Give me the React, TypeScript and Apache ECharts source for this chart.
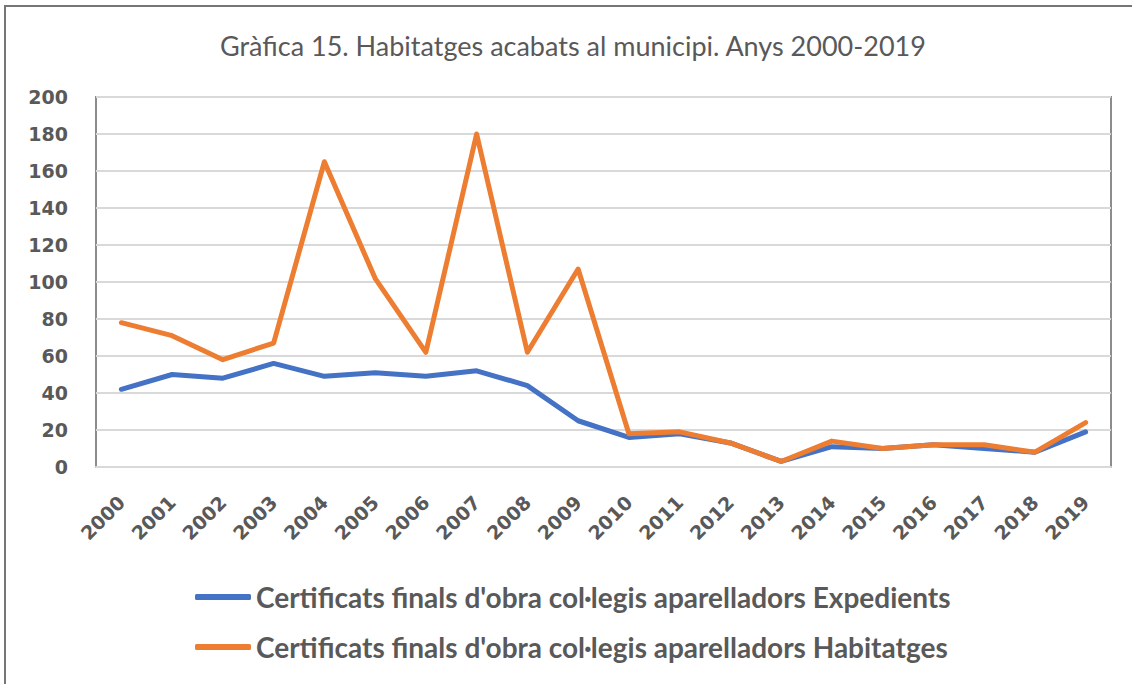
import React, { useEffect, useRef } from "react";
import * as echarts from "echarts";

const years = ["2000","2001","2002","2003","2004","2005","2006","2007","2008","2009","2010","2011","2012","2013","2014","2015","2016","2017","2018","2019"];
const expedients = [42, 50, 48, 56, 49, 51, 49, 52, 44, 25, 16, 18, 13, 3, 11, 10, 12, 10, 8, 19];
const habitatges = [78, 71, 58, 67, 165, 102, 62, 180, 62, 107, 18, 19, 13, 3, 14, 10, 12, 12, 8, 24];
const seriesNames = [
  "Certificats finals d'obra col·legis aparelladors Expedients",
  "Certificats finals d'obra col·legis aparelladors Habitatges",
];
const titleText = "Gràfica 15. Habitatges acabats al municipi. Anys 2000-2019";

export default function App() {
  const ref = useRef<HTMLDivElement>(null);
  useEffect(() => {
    if (!ref.current) return;
    const chart = echarts.init(ref.current, undefined, { renderer: "svg" });
    chart.setOption({
      animation: false,
      backgroundColor: "#ffffff",
      title: {
        text: titleText,
        left: 215,
        top: 27,
        textStyle: { fontFamily: "Lato", fontWeight: "normal", fontSize: 27, color: "#595959" },
      },
      grid: {
        left: 96,
        right: 21,
        top: 97,
        bottom: 217,
        show: true,
        borderColor: "#8c8c8c",
        borderWidth: 2,
      },
      legend: {
        orient: "vertical",
        left: 190,
        top: 577,
        itemGap: 20,
        itemWidth: 56,
        itemHeight: 6,
        icon: "roundRect",
        textStyle: {
          fontFamily: "Lato",
          fontWeight: "bold",
          fontSize: 28,
          lineHeight: 30,
          color: "#595959",
        },
        data: seriesNames,
      },
      xAxis: {
        type: "category",
        data: years,
        boundaryGap: true,
        axisTick: { show: false },
        axisLine: { lineStyle: { color: "#d9d9d9", width: 2 } },
        axisLabel: {
          rotate: 45,
          interval: 0,
          margin: 32,
          fontFamily: "DejaVu Sans",
          fontWeight: "bold",
          fontSize: 19,
          color: "#595959",
        },
      },
      yAxis: {
        type: "value",
        min: 0,
        max: 200,
        interval: 20,
        axisLine: { show: false },
        axisTick: { show: false },
        splitLine: { lineStyle: { color: "#d9d9d9", width: 2 } },
        axisLabel: {
          margin: 28,
          fontFamily: "DejaVu Sans",
          fontWeight: "bold",
          fontSize: 19,
          color: "#595959",
        },
      },
      series: [
        {
          name: seriesNames[0],
          type: "line",
          data: expedients,
          symbol: "none",
          lineStyle: { color: "#4472C4", width: 5, cap: "round", join: "round" },
          itemStyle: { color: "#4472C4" },
        },
        {
          name: seriesNames[1],
          type: "line",
          data: habitatges,
          symbol: "none",
          lineStyle: { color: "#ED7D31", width: 5, cap: "round", join: "round" },
          itemStyle: { color: "#ED7D31" },
        },
      ],
    });
    return () => chart.dispose();
  }, []);
  return (
    <div style={{ position: "fixed", left: 0, top: 0, width: 1132, height: 684, background: "#fff", overflow: "hidden" }}>
      <div ref={ref} style={{ position: "absolute", left: 0, top: 0, width: 1132, height: 684 }} />
      <div
        style={{
          position: "absolute",
          left: 4,
          top: 5,
          width: 1200,
          height: 800,
          borderTop: "2px solid #767676",
          borderLeft: "2px solid #767676",
          boxSizing: "border-box",
          pointerEvents: "none",
        }}
      />
    </div>
  );
}
